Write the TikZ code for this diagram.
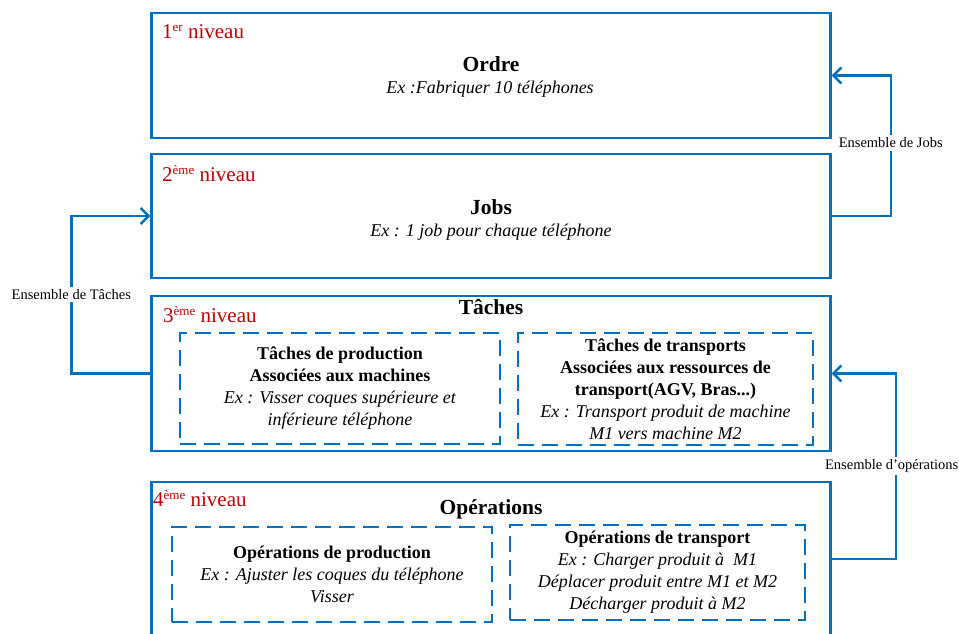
\documentclass[tikz,border=0pt]{standalone}
\usepackage{fontspec}
\setmainfont{Liberation Serif}
\usetikzlibrary{arrows.meta}
\definecolor{bleu}{RGB}{0,112,192}
\definecolor{rouge}{RGB}{192,0,0}
\newcommand{\expo}[1]{\raisebox{7pt}{\fontsize{13}{13}\selectfont #1}}

\begin{document}
\begin{tikzpicture}[x=1pt,y=-1pt,
    niv/.style={draw=bleu,line width=2.4pt,minimum width=679pt,inner sep=0pt},
    sous/.style={draw=bleu,line width=2.5pt,dash pattern=on 16pt off 8pt,align=center,inner sep=0pt,font=\fontsize{18}{22}\selectfont},
    titre/.style={anchor=base,font=\bfseries\fontsize{21.5}{26}\selectfont},
    ex/.style={anchor=base,font=\itshape\fontsize{18}{22}\selectfont},
    num/.style={anchor=base west,text=rouge,inner sep=0pt,font=\fontsize{21}{25}\selectfont},
    lien/.style={draw=bleu,line width=2.4pt,-{Straight Barb[length=8pt,width=16pt]}},
    etiq/.style={fill=white,inner sep=2.5pt,font=\fontsize{14.5}{17}\selectfont}]
  \useasboundingbox (0,0) rectangle (959,633);
  \clip (0,0) rectangle (959,633);
  \node[niv,minimum height=125pt] (ordre) at (491,75.5) {};
  \node[niv,minimum height=124pt] (jobs) at (491,216) {};
  \node[niv,minimum height=155pt] (taches) at (491,373.5) {};
  \node[niv,minimum height=154pt] (ops) at (491,559) {};
  \node[num] (n1) at (162,38.5) {1\expo{er} niveau};
  \node[num] (n2) at (162,181) {2\expo{ème} niveau};
  \node[num] (n3) at (163,322) {3\expo{ème} niveau};
  \node[num] (n4) at (153,506) {4\expo{ème} niveau};
  \node[titre] (tordre) at (491,71) {Ordre};
  \node[ex] (eordre) at (490,93) {Ex :Fabriquer 10 téléphones};
  \node[titre] (tjobs) at (491,214) {Jobs};
  \node[ex] (ejobs) at (491,236) {Ex : 1 job pour chaque téléphone};
  \node[titre] (ttaches) at (491,314) {Tâches};
  \node[titre] (tops) at (491,514) {Opérations};
  \node[sous,minimum width=320pt,minimum height=111pt] (tprod) at (340,388.5)
    {\textbf{Tâches de production}\\\textbf{Associées aux machines}\\
     \textit{Ex : Visser coques supérieure et}\\\textit{inférieure téléphone}};
  \node[sous,minimum width=295pt,minimum height=112pt] (ttrans) at (665.5,389)
    {\textbf{Tâches de transports}\\\textbf{Associées aux ressources de}\\
     \textbf{transport(AGV, Bras...)}\\\textit{Ex : Transport produit de machine}\\
     \textit{M1 vers machine M2}};
  \node[sous,minimum width=320pt,minimum height=95pt] (oprod) at (332,574.5)
    {\textbf{Opérations de production}\\\textit{Ex : Ajuster les coques du téléphone}\\
     \textit{Visser}};
  \node[sous,minimum width=295pt,minimum height=95pt] (otrans) at (657.5,572.5)
    {\textbf{Opérations de transport}\\\textit{Ex : Charger produit à~ M1}\\
     \textit{Déplacer produit entre M1 et M2}\\\textit{Décharger produit à M2}};
  \draw[lien] (jobs.east) -- ++(59,0) |- node[etiq,pos=0.26] (lj) {Ensemble de Jobs} (ordre.east);
  \draw[lien] (taches.west) -- ++(-79,0) |- node[etiq,pos=0.25] (lt) {Ensemble de Tâches} (jobs.west);
  \draw[lien] (ops.east) -- ++(64,0) |- node[etiq,pos=0.25,xshift=-4pt] (lo) {Ensemble d’opérations} (taches.east);
\end{tikzpicture}
\end{document}
